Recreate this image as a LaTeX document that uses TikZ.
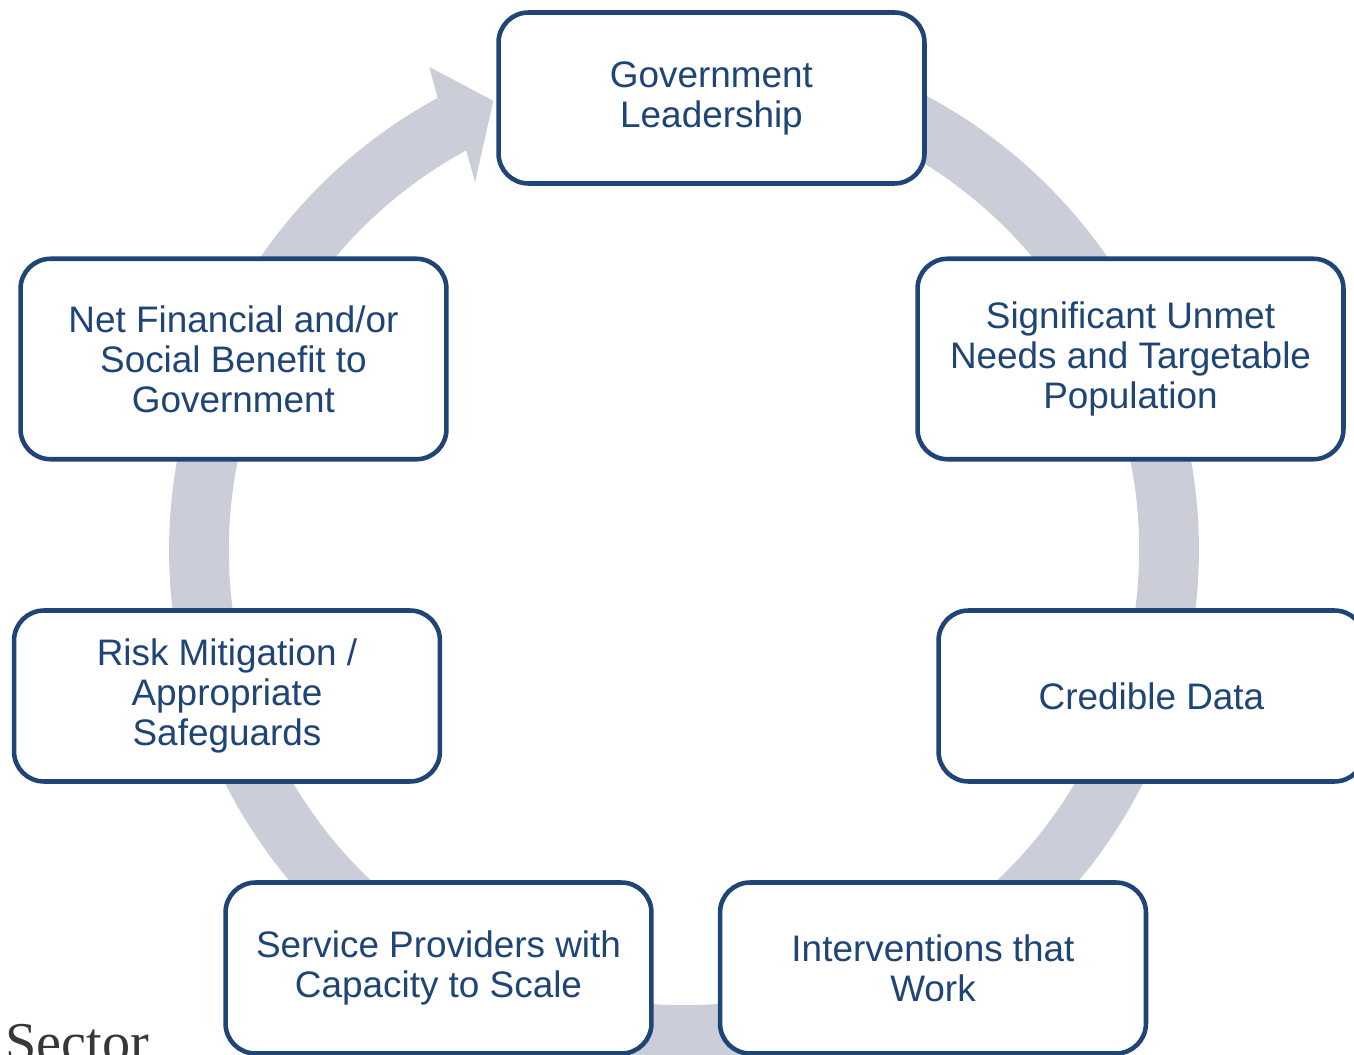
\documentclass[tikz,border=0pt]{standalone}
\usepackage{fontspec}
\setmainfont{Liberation Sans}
\newfontfamily\serifface{Liberation Serif}
\usepackage{xcolor}
\definecolor{boxblue}{RGB}{31,68,118}
\definecolor{ringgray}{RGB}{203,206,216}
\definecolor{labelgray}{RGB}{55,55,55}

\begin{document}
\begin{tikzpicture}[x=0.02cm,y=0.02cm,
    stage/.style={draw=boxblue,fill=white,line width=2.6pt,rounded corners=0.6cm,
        text=boxblue,align=center,minimum width=8.52cm,minimum height=3.42cm,
        font=\fontsize{21}{22.8}\selectfont},
    tall/.style={minimum height=4.01cm},
    ring/.style={draw=ringgray,line width=34pt},
    ringtip/.style={fill=ringgray}]
  \useasboundingbox (-684,-504) rectangle (670,550);
  \clip (-684,-504) rectangle (670,550);

  % the cycle behind the boxes
  \draw[ring] (118.6:485) arc[start angle=118.6,end angle=435,radius=485];
  \fill[ringtip] (118.6:515) -- (117.8:546) -- (113:488) -- (119.6:423) -- (118.6:455) -- cycle;

  \node[stage] (lead) at (27.5,452) {Government\\Leadership};
  \node[stage,tall] (needs) at (446.5,191) {Significant Unmet\\Needs and Targetable\\Population};
  \node[stage] (data) at (467.5,-146) {Credible Data};
  \node[stage] (work) at (249,-418) {Interventions that\\Work};
  \node[stage] (scale) at (-245.5,-418) {Service Providers with\\Capacity to Scale};
  \node[stage] (risk) at (-457,-146) {Risk Mitigation /\\Appropriate\\Safeguards};
  \node[stage,tall] (benefit) at (-450.5,191) {Net Financial and/or\\Social Benefit to\\Government};

  \node[anchor=base west,inner sep=0pt,text=labelgray,
        font=\serifface\fontsize{32}{36}\selectfont] (sector) at (-679,-511) {Sector};
\end{tikzpicture}
\end{document}
